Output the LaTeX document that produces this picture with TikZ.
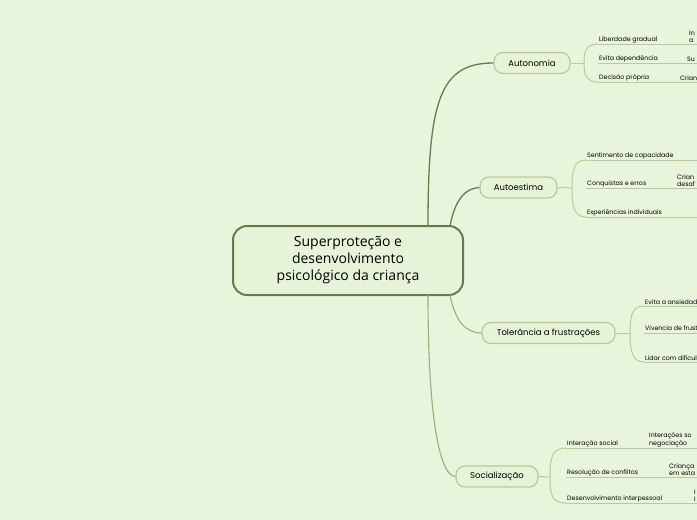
\documentclass[tikz,border=0pt]{standalone}
\usepackage{fontspec}
\setmainfont{Open Sans}
\newfontfamily\leaffont{Poppins}
\definecolor{bgc}{HTML}{E8F5DC}
\definecolor{darkline}{HTML}{6B7A4B}
\definecolor{midline}{HTML}{9CAE78}
\definecolor{lightline}{HTML}{B8CA98}
\definecolor{boxfill}{HTML}{E6F3D8}
\tikzset{ root/.style = { rectangle % central topic
        , rounded corners = 14pt
        , draw = darkline
        , line width = 2pt
        , fill = boxfill
        , minimum width = 230pt
        , minimum height = 69pt
        , align = center
        , font = \fontsize{14}{17}\selectfont
        }
        , topic/.style = { rectangle % main branch
        , rounded corners = 9pt
        , draw = lightline
        , line width = 1.2pt
        , fill = boxfill
        , minimum height = 21pt
        , font = \leaffont\fontsize{8.5}{10}\selectfont
        }
        , leaf/.style = { anchor = south west % underlined label
        , inner sep = 1pt
        , font = \leaffont\fontsize{6.3}{7.5}\selectfont
        , align = left
        }
        }
\begin{document}
\begin{tikzpicture}[x=1pt, y=-1pt,
        main_edge/.style={draw=darkline, line width=1.3pt},
        soft_edge/.style={draw=midline, line width=1.1pt},
        sub_edge/.style={draw=lightline, line width=1pt}]
        \fill[bgc] (0,0) rectangle (697,520);
        \useasboundingbox (0,0) rectangle (697,520);
        \clip (0,0) rectangle (697,520);

        \node [root] (c) at (348,260.5) {Superproteção e\\desenvolvimento\\psicológico da criança};
        \node [topic, minimum width=76pt] (t1) at (532,63) {Autonomia};
        \node [topic, minimum width=77pt] (t2) at (518.5,187.5) {Autoestima};
        \node [topic, minimum width=133pt] (t3) at (548.5,333) {Tolerância a frustrações};
        \node [topic, minimum width=82pt] (t4) at (497,476.5) {Socialização};

        \coordinate (a1) at (428,226);
        \coordinate (a2) at (450,226);
        \coordinate (a3) at (450,295);
        \coordinate (a4) at (428,295);
        \draw [main_edge] (a1) .. controls (428,100) and (440,63) .. (t1.west);
        \draw [main_edge] (a2) .. controls (455,200) and (465,188) .. (t2.west);
        \draw [soft_edge] (a3) .. controls (455,320) and (465,333) .. (t3.west);
        \draw [soft_edge] (a4) .. controls (428,420) and (440,476) .. (t4.west);

        % Autonomia
        \node [leaf] (l11) at (598,44) {Liberdade gradual};
        \node [leaf] (l12) at (598,63) {Evita dependência};
        \node [leaf] (l13) at (598,82) {Decisão própria};
        \node [leaf] (g11) at (688,44) {In\\a};
        \node [leaf] (g12) at (686,63) {Su};
        \node [leaf] (g13) at (679,82) {Crian};
        \draw [sub_edge] (t1.east) -- (584,63);
        \draw [sub_edge] (598,44) .. controls (586,44) and (584,52) .. (584,63)
                .. controls (584,74) and (586,82) .. (598,82);
        \foreach \y in {44,63,82} \draw [sub_edge] (598,\y) -- (697,\y);

        % Autoestima
        \node [leaf] (l21) at (586,160) {Sentimento de capacidade};
        \node [leaf] (l22) at (586,188) {Conquistas e erros};
        \node [leaf] (l23) at (586,217) {Experiências individuais};
        \node [leaf] (g22) at (676,188) {Crian\\desaf};
        \draw [sub_edge] (t2.east) -- (572,188);
        \draw [sub_edge] (586,160) .. controls (574,160) and (572,170) .. (572,188)
                .. controls (572,206) and (574,217) .. (586,217);
        \foreach \y in {160,188,217} \draw [sub_edge] (586,\y) -- (697,\y);

        % Tolerancia
        \node [leaf] (l31) at (644,306) {Evita a ansiedade};
        \node [leaf] (l32) at (644,333) {Vivencia de frustrações};
        \node [leaf] (l33) at (644,362) {Lidar com dificuldades};
        \draw [sub_edge] (t3.east) -- (630,333);
        \draw [sub_edge] (644,306) .. controls (632,306) and (630,316) .. (630,333)
                .. controls (630,350) and (632,362) .. (644,362);
        \foreach \y in {306,333,362} \draw [sub_edge] (644,\y) -- (697,\y);

        % Socializacao
        \node [leaf] (l41) at (566,448) {Interação social};
        \node [leaf] (l42) at (566,477) {Resolução de conflitos};
        \node [leaf] (l43) at (566,503) {Desenvolvimento interpessoal};
        \node [leaf] (g41) at (648,448) {Interações so\\negociação};
        \node [leaf] (g42) at (668,477) {Criança\\em esta};
        \node [leaf] (g43) at (693,503) {I\\I};
        \draw [sub_edge] (t4.east) -- (550,477);
        \draw [sub_edge] (566,448) .. controls (552,448) and (550,458) .. (550,477)
                .. controls (550,495) and (552,503) .. (566,503);
        \foreach \y in {448,477,503} \draw [sub_edge] (566,\y) -- (697,\y);
\end{tikzpicture}
\end{document}
